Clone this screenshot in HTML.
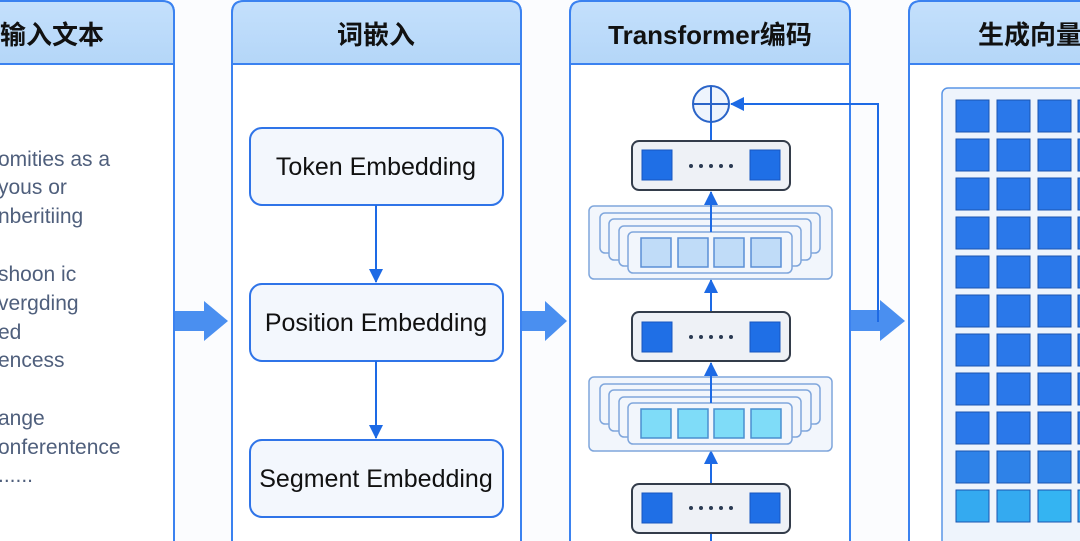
<!DOCTYPE html>
<html><head><meta charset="utf-8"><style>
html,body{margin:0;padding:0;background:#fbfcfe;}
svg{display:block;}
text{font-family:"Liberation Sans","Noto Sans CJK SC",sans-serif;}
</style></head><body>
<svg width="1080" height="541" viewBox="0 0 1080 541" xmlns="http://www.w3.org/2000/svg">
<defs>
<linearGradient id="hd" x1="0" y1="0" x2="0" y2="1"><stop offset="0" stop-color="#c4e0fc"/><stop offset="1" stop-color="#b4d6f8"/></linearGradient>
<marker id="ah" markerWidth="14" markerHeight="14" refX="13" refY="7" orient="auto" markerUnits="userSpaceOnUse"><path d="M0,0 L14,7 L0,14 Z" fill="#1d6ae5"/></marker>
</defs>
<rect width="1080" height="541" fill="#fbfcfe"/>
<g stroke="#3b82f0" stroke-width="2">
<path d="M-20,560 V13 Q-20,1 -8,1 H162 Q174,1 174,13 V560 Z" fill="#fff"/>
<path d="M-20,64 V13 Q-20,1 -8,1 H162 Q174,1 174,13 V64 Z" fill="url(#hd)"/>
<path d="M232,560 V13 Q232,1 244,1 H509 Q521,1 521,13 V560 Z" fill="#fff"/>
<path d="M232,64 V13 Q232,1 244,1 H509 Q521,1 521,13 V64 Z" fill="url(#hd)"/>
<path d="M570,560 V13 Q570,1 582,1 H838 Q850,1 850,13 V560 Z" fill="#fff"/>
<path d="M570,64 V13 Q570,1 582,1 H838 Q850,1 850,13 V64 Z" fill="url(#hd)"/>
<path d="M909,560 V13 Q909,1 921,1 H1100 V560 Z" fill="#fff"/>
<path d="M909,64 V13 Q909,1 921,1 H1100 V64 Z" fill="url(#hd)"/>
</g>
<g font-size="26" font-weight="bold" fill="#111" text-anchor="middle">
<text x="52" y="44">输入文本</text>
<text x="376" y="44">词嵌入</text>
<text x="710" y="44">Transformer编码</text>
<text x="1030" y="44">生成向量</text>
</g>
<g font-size="21" fill="#4f5f7c">
<text x="-2" y="166">omities as a</text>
<text x="-2" y="194">yous or</text>
<text x="-2" y="223">nberitiing</text>
<text x="-2" y="281">shoon ic</text>
<text x="-2" y="310">vergding</text>
<text x="-2" y="339">ed</text>
<text x="-2" y="367">encess</text>
<text x="-2" y="425">ange</text>
<text x="-2" y="454">onferentence</text>
<text x="-2" y="482">......</text>
</g>
<g fill="#4a8ff0">
<path d="M175,311 H204 V301 L228,321 L204,341 V331 H175 Z"/>
<path d="M522,311 H545 V301 L567,321 L545,341 V331 H522 Z"/>
<path d="M851,310 H880 V300 L905,321 L880,341 V331 H851 Z"/>
</g>
<g stroke="#2f74e8" stroke-width="2" fill="#f3f7fd">
<rect x="250" y="128" width="253" height="77" rx="12"/>
<rect x="250" y="284" width="253" height="77" rx="12"/>
<rect x="250" y="440" width="253" height="77" rx="12"/>
</g>
<g font-size="25" fill="#111" text-anchor="middle">
<text x="376" y="175">Token Embedding</text>
<text x="376" y="331">Position Embedding</text>
<text x="376" y="487">Segment Embedding</text>
</g>
<g stroke="#1d6ae5" stroke-width="2">
<line x1="376" y1="205" x2="376" y2="282" marker-end="url(#ah)"/>
<line x1="376" y1="361" x2="376" y2="438" marker-end="url(#ah)"/>
</g>
<g stroke="#1d6ae5" stroke-width="2" fill="none">
<line x1="711" y1="541" x2="711" y2="533"/>
<line x1="711" y1="484" x2="711" y2="451" marker-end="url(#ah)"/>
<line x1="711" y1="409" x2="711" y2="363" marker-end="url(#ah)"/>
<line x1="711" y1="312" x2="711" y2="280" marker-end="url(#ah)"/>
<line x1="711" y1="238" x2="711" y2="192" marker-end="url(#ah)"/>
<line x1="711" y1="141" x2="711" y2="122"/>
<polyline points="878,322 878,104 731,104" marker-end="url(#ah)"/>
</g>
<circle cx="711" cy="104" r="18" fill="#eef4fd" stroke="#2a64c8" stroke-width="2"/>
<path d="M693,104 H729 M711,86 V122" stroke="#2a64c8" stroke-width="2"/>
<g stroke="#333c4a" stroke-width="2" fill="#eef1f6">
<rect x="632" y="141" width="158" height="49" rx="7"/>
<rect x="632" y="312" width="158" height="49" rx="7"/>
<rect x="632" y="484" width="158" height="49" rx="7"/>
</g>
<g fill="#1f6fe6" stroke="#1756c0" stroke-width="1">
<rect x="642" y="150" width="30" height="30"/><rect x="750" y="150" width="30" height="30"/>
<rect x="642" y="322" width="30" height="30"/><rect x="750" y="322" width="30" height="30"/>
<rect x="642" y="493" width="30" height="30"/><rect x="750" y="493" width="30" height="30"/>
</g>
<g fill="#2b3a52">
<circle cx="691" cy="166" r="2"/><circle cx="701" cy="166" r="2"/><circle cx="711" cy="166" r="2"/><circle cx="721" cy="166" r="2"/><circle cx="731" cy="166" r="2"/>
<circle cx="691" cy="337" r="2"/><circle cx="701" cy="337" r="2"/><circle cx="711" cy="337" r="2"/><circle cx="721" cy="337" r="2"/><circle cx="731" cy="337" r="2"/>
<circle cx="691" cy="508" r="2"/><circle cx="701" cy="508" r="2"/><circle cx="711" cy="508" r="2"/><circle cx="721" cy="508" r="2"/><circle cx="731" cy="508" r="2"/>
</g>
<g stroke="#7fa6dc" stroke-width="1.5" fill="#f2f6fc">
<rect x="589" y="206" width="243" height="73" rx="5"/>
<rect x="600" y="213" width="220" height="40" rx="5"/>
<rect x="609" y="219" width="202" height="41" rx="5"/>
<rect x="619" y="226" width="182" height="40" rx="5"/>
<rect x="628" y="232" width="164" height="41" rx="5"/>
<rect x="589" y="377" width="243" height="74" rx="5"/>
<rect x="600" y="384" width="220" height="40" rx="5"/>
<rect x="609" y="390" width="202" height="41" rx="5"/>
<rect x="619" y="397" width="182" height="40" rx="5"/>
<rect x="628" y="403" width="164" height="41" rx="5"/>
</g>
<line x1="711" y1="232" x2="711" y2="195" stroke="#1d6ae5" stroke-width="2"/>
<line x1="711" y1="403" x2="711" y2="366" stroke="#1d6ae5" stroke-width="2"/>
<g stroke="#5b8fd6" stroke-width="1.5" fill="#c0dcf8">
<rect x="641" y="238" width="30" height="29"/><rect x="678" y="238" width="30" height="29"/><rect x="714" y="238" width="30" height="29"/><rect x="751" y="238" width="30" height="29"/>
</g>
<g stroke="#4a8fd0" stroke-width="1.5" fill="#7fdcf8">
<rect x="641" y="409" width="30" height="29"/><rect x="678" y="409" width="30" height="29"/><rect x="714" y="409" width="30" height="29"/><rect x="751" y="409" width="30" height="29"/>
</g>
<rect x="942" y="88" width="160" height="470" rx="6" fill="#eef4fc" stroke="#5a95e6" stroke-width="1.5"/>
<g stroke="#1a55b0" stroke-width="1" fill="#2a78ea">
<rect x="956" y="100" width="33" height="32"/><rect x="997" y="100" width="33" height="32"/><rect x="1038" y="100" width="33" height="32"/><rect x="1078" y="100" width="33" height="32"/>
<rect x="956" y="139" width="33" height="32"/><rect x="997" y="139" width="33" height="32"/><rect x="1038" y="139" width="33" height="32"/><rect x="1078" y="139" width="33" height="32"/>
<rect x="956" y="178" width="33" height="32"/><rect x="997" y="178" width="33" height="32"/><rect x="1038" y="178" width="33" height="32"/><rect x="1078" y="178" width="33" height="32"/>
<rect x="956" y="217" width="33" height="32"/><rect x="997" y="217" width="33" height="32"/><rect x="1038" y="217" width="33" height="32"/><rect x="1078" y="217" width="33" height="32"/>
<rect x="956" y="256" width="33" height="32"/><rect x="997" y="256" width="33" height="32"/><rect x="1038" y="256" width="33" height="32"/><rect x="1078" y="256" width="33" height="32"/>
<rect x="956" y="295" width="33" height="32"/><rect x="997" y="295" width="33" height="32"/><rect x="1038" y="295" width="33" height="32"/><rect x="1078" y="295" width="33" height="32"/>
<rect x="956" y="334" width="33" height="32"/><rect x="997" y="334" width="33" height="32"/><rect x="1038" y="334" width="33" height="32"/><rect x="1078" y="334" width="33" height="32"/>
<rect x="956" y="373" width="33" height="32"/><rect x="997" y="373" width="33" height="32"/><rect x="1038" y="373" width="33" height="32"/><rect x="1078" y="373" width="33" height="32"/>
<rect x="956" y="412" width="33" height="32"/><rect x="997" y="412" width="33" height="32"/><rect x="1038" y="412" width="33" height="32"/><rect x="1078" y="412" width="33" height="32"/>
<rect x="956" y="451" width="33" height="32" fill="#2e82e8"/><rect x="997" y="451" width="33" height="32" fill="#2e82e8"/><rect x="1038" y="451" width="33" height="32" fill="#2e82e8"/><rect x="1078" y="451" width="33" height="32" fill="#2e82e8"/>
<rect x="956" y="490" width="33" height="32" fill="#34aaf0"/><rect x="997" y="490" width="33" height="32" fill="#34aaf0"/><rect x="1038" y="490" width="33" height="32" fill="#34b4f2"/><rect x="1078" y="490" width="33" height="32" fill="#34aaf0"/>
</g>
</svg>
</body></html>
